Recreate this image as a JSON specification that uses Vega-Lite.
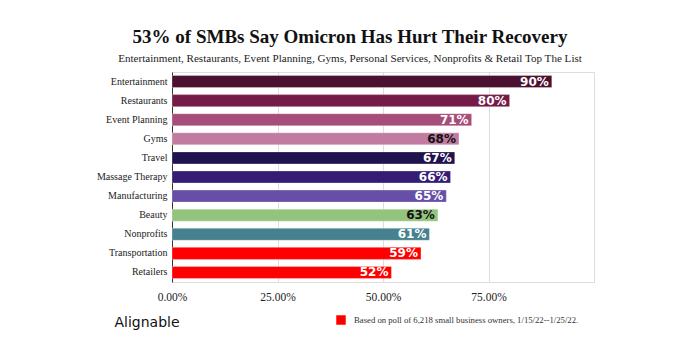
{
  "$schema": "https://vega.github.io/schema/vega-lite/v6.json",
  "width": 422,
  "height": 210,
  "autosize": "none",
  "padding": {"left": 172, "top": 72, "right": 106, "bottom": 68},
  "background": "white",
  "title": {
    "text": "53% of SMBs Say Omicron Has Hurt Their Recovery",
    "subtitle": "Entertainment, Restaurants, Event Planning, Gyms, Personal Services, Nonprofits & Retail Top The List",
    "font": "Liberation Serif",
    "fontSize": 19,
    "fontWeight": "bold",
    "color": "#111",
    "subtitleFont": "Liberation Serif",
    "subtitleFontSize": 11.1,
    "subtitleColor": "#222",
    "subtitlePadding": 6,
    "anchor": "middle",
    "dx": -33,
    "offset": 8
  },
  "data": {
    "values": [
      {"cat": "Entertainment", "v": 0.90, "lab": "90%"},
      {"cat": "Restaurants", "v": 0.80, "lab": "80%"},
      {"cat": "Event Planning", "v": 0.71, "lab": "71%"},
      {"cat": "Gyms", "v": 0.68, "lab": "68%"},
      {"cat": "Travel", "v": 0.67, "lab": "67%"},
      {"cat": "Massage Therapy", "v": 0.66, "lab": "66%"},
      {"cat": "Manufacturing", "v": 0.65, "lab": "65%"},
      {"cat": "Beauty", "v": 0.63, "lab": "63%"},
      {"cat": "Nonprofits", "v": 0.61, "lab": "61%"},
      {"cat": "Transportation", "v": 0.59, "lab": "59%"},
      {"cat": "Retailers", "v": 0.52, "lab": "52%"}
    ]
  },
  "encoding": {
    "y": {
      "field": "cat",
      "type": "nominal",
      "sort": null,
      "scale": {"paddingInner": 0.37, "paddingOuter": 0.185},
      "axis": {
        "title": null,
        "labelFont": "Liberation Serif",
        "labelFontSize": 10,
        "labelColor": "#222",
        "ticks": false,
        "labelPadding": 5,
        "domainColor": "#333",
        "domainWidth": 1
      }
    },
    "x": {
      "field": "v",
      "type": "quantitative",
      "scale": {"domain": [0, 1], "nice": false},
      "axis": {
        "values": [0, 0.25, 0.5, 0.75, 1],
        "labelExpr": "datum.value >= 1 ? '' : format(datum.value, '.2%')",
        "labelFlush": false,
        "labelFont": "Liberation Serif",
        "labelFontSize": 11.5,
        "labelColor": "#222",
        "labelPadding": 9,
        "ticks": false,
        "domain": false,
        "gridColor": "#dddddd",
        "title": "Alignable",
        "titleFont": "DejaVu Sans",
        "titleFontSize": 14,
        "titleFontWeight": "normal",
        "titleColor": "#111",
        "titleAnchor": "start",
        "titleAlign": "left",
        "titleBaseline": "middle",
        "titleX": -58,
        "titleY": 40
      }
    }
  },
  "layer": [
    {
      "mark": {"type": "bar", "stroke": "white", "strokeWidth": 0.5, "strokeOpacity": 0.6},
      "encoding": {
        "color": {
          "field": "cat",
          "type": "nominal",
          "scale": {
            "domain": ["Entertainment", "Restaurants", "Event Planning", "Gyms", "Travel", "Massage Therapy", "Manufacturing", "Beauty", "Nonprofits", "Transportation", "Retailers"],
            "range": ["#4c1130", "#741b47", "#a64d79", "#c27ba0", "#20124d", "#351c75", "#674ea7", "#93c47d", "#45818e", "#ff0000", "#ff0000"]
          },
          "legend": {
            "values": ["Retailers"],
            "labelExpr": "'Based on poll of 6,218 small business owners, 1/15/22--1/25/22.'",
            "title": null,
            "orient": "none",
            "legendX": 164,
            "legendY": 243,
            "symbolType": "square",
            "symbolSize": 90,
            "symbolStrokeWidth": 0,
            "labelFont": "Liberation Serif",
            "labelFontSize": 8.7,
            "labelColor": "#333",
            "labelLimit": 400,
            "labelOffset": 8
          }
        }
      }
    },
    {
      "mark": {"type": "text", "align": "right", "dx": -3, "font": "DejaVu Sans", "fontWeight": "bold", "fontSize": 12, "baseline": "middle"},
      "encoding": {
        "text": {"field": "lab"},
        "color": {
          "condition": {"test": "datum.cat === 'Gyms' || datum.cat === 'Beauty'", "value": "#111"},
          "value": "white"
        }
      }
    }
  ]
}
